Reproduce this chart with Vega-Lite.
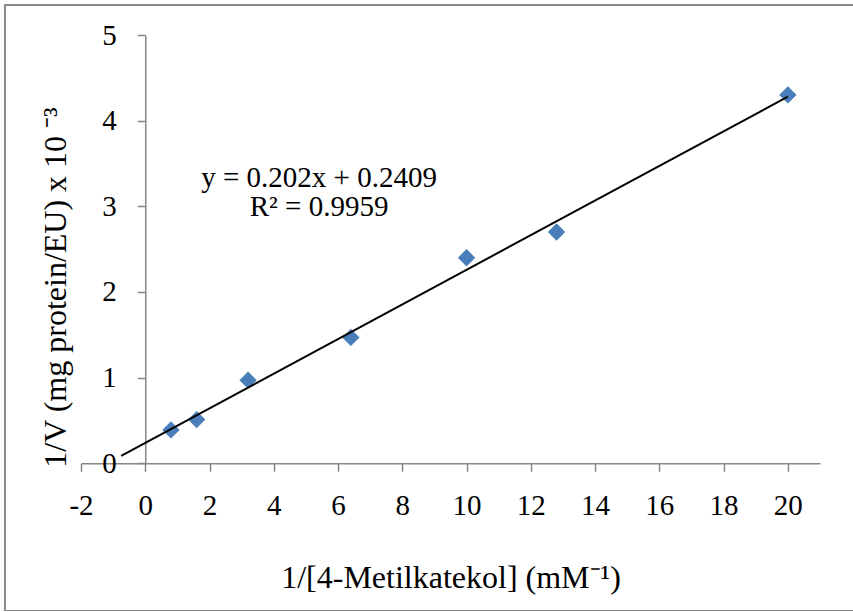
{
  "$schema": "https://vega.github.io/schema/vega-lite/v6.json",
  "width": 850,
  "height": 606,
  "autosize": {"type": "none"},
  "padding": {"left": 5, "top": 5, "right": 0, "bottom": 0},
  "background": "white",
  "config": {
    "view": {"stroke": "#8a8a8a", "strokeWidth": 2},
    "font": "Liberation Serif"
  },
  "layer": [
    {
      "data": {
        "values": [
          {"x": 0.8, "y": 0.39},
          {"x": 1.6, "y": 0.51},
          {"x": 3.2, "y": 0.97},
          {"x": 6.4, "y": 1.47},
          {"x": 10, "y": 2.40},
          {"x": 12.8, "y": 2.70},
          {"x": 20, "y": 4.30}
        ]
      },
      "encoding": {
        "x": {
          "field": "x",
          "type": "quantitative",
          "scale": {"domain": [-2, 21], "range": [76, 815], "nice": false, "zero": false},
          "axis": {
            "title": "1/[4-Metilkatekol] (mM⁻¹)",
            "values": [-2, 0, 2, 4, 6, 8, 10, 12, 14, 16, 18, 20],
            "labelExpr": "'' + datum.value",
            "grid": false,
            "offset": -147.7,
            "domainColor": "#868686",
            "domainWidth": 1.5,
            "tickColor": "#868686",
            "tickWidth": 1.5,
            "tickSize": 8,
            "labelPadding": 20,
            "labelFontSize": 29,
            "labelFont": "Liberation Serif",
            "labelColor": "black",
            "labelFlush": false,
            "labelOverlap": false,
            "titleFont": "Liberation Serif",
            "titleFontSize": 32,
            "titleFontWeight": "normal",
            "titleColor": "black",
            "titleBaseline": "middle",
            "titleY": 114
          }
        },
        "y": {
          "field": "y",
          "type": "quantitative",
          "scale": {"domain": [0, 5], "range": [458.3, 30], "nice": false, "zero": false},
          "axis": {
            "title": "1/V (mg protein/EU) x 10 ⁻³",
            "values": [0, 1, 2, 3, 4, 5],
            "labelExpr": "'' + datum.value",
            "grid": false,
            "offset": -140.26,
            "domainColor": "#868686",
            "domainWidth": 1.5,
            "tickColor": "#868686",
            "tickWidth": 1.5,
            "tickSize": 8,
            "labelPadding": 21,
            "labelFontSize": 29,
            "labelFont": "Liberation Serif",
            "labelColor": "black",
            "labelFlush": false,
            "labelOverlap": false,
            "titleFont": "Liberation Serif",
            "titleFontSize": 32,
            "titleFontWeight": "normal",
            "titleColor": "black",
            "titleAngle": -90,
            "titleAlign": "center",
            "titleBaseline": "middle",
            "titleX": -90,
            "titleY": 282
          }
        }
      },
      "layer": [
        {
          "mark": {"type": "point", "shape": "diamond", "filled": true, "size": 300, "color": "#4a7ebb", "opacity": 1}
        },
        {
          "transform": [{"regression": "y", "on": "x", "extent": [-0.75, 20]}],
          "mark": {"type": "line", "color": "black", "strokeWidth": 2}
        }
      ]
    },
    {
      "data": {"values": [{"label": "y = 0.202x + 0.2409"}]},
      "mark": {"type": "text", "font": "Liberation Serif", "fontSize": 29, "color": "black", "align": "center", "baseline": "middle"},
      "encoding": {
        "x": {"datum": 5.41, "type": "quantitative"},
        "y": {"datum": 3.33, "type": "quantitative"},
        "text": {"field": "label", "type": "nominal"}
      }
    },
    {
      "data": {"values": [{"label": "R² = 0.9959"}]},
      "mark": {"type": "text", "font": "Liberation Serif", "fontSize": 29, "color": "black", "align": "center", "baseline": "middle"},
      "encoding": {
        "x": {"datum": 5.41, "type": "quantitative"},
        "y": {"datum": 2.99, "type": "quantitative"},
        "text": {"field": "label", "type": "nominal"}
      }
    }
  ]
}
